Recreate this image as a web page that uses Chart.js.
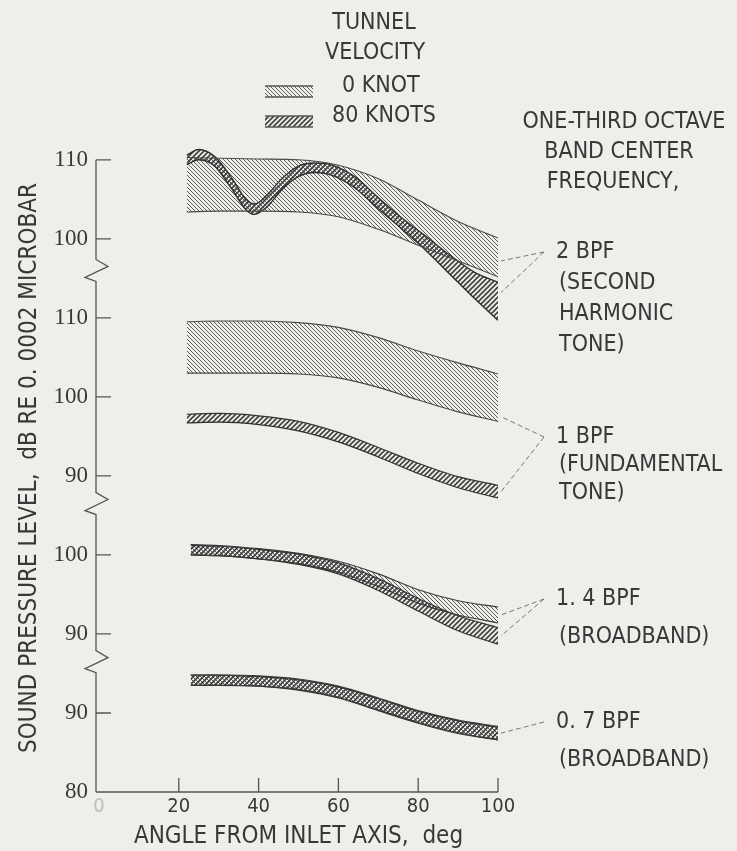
<!DOCTYPE html>
<html>
<head>
<meta charset="utf-8">
<script src="https://cdn.jsdelivr.net/npm/chart.js@4.4.1/dist/chart.umd.min.js"></script>
<style>
  html, body { margin: 0; padding: 0; background: #eeeeeb; }
  #wrap { width: 737px; height: 851px; }
</style>
</head>
<body>
<div id="wrap"><canvas id="chart" width="737" height="851"></canvas></div>
<script>
// --- angles from inlet axis, deg ---
const anglesTone = [22, 30, 40, 50, 60, 70, 80, 90, 100];
const anglesBroad = [23, 30, 40, 50, 60, 70, 80, 90, 100];
const anglesWiggle = [22, 25, 29, 33, 37, 39, 42, 46, 50, 54, 58, 64, 70, 76, 82, 88, 94, 100];

// --- 2 BPF (second harmonic tone), dB ---
const bpf2Knot0Upper = [110.3, 110.2, 110.1, 110.0, 109.3, 107.6, 104.9, 102.2, 100.1];
const bpf2Knot0Lower = [103.4, 103.5, 103.5, 103.4, 102.8, 101.2, 99.2, 97.2, 95.2];
const bpf2Knot80Upper = [110.6, 111.3, 110.4, 107.9, 104.9, 104.4, 105.5, 107.7, 109.2, 109.6, 109.4, 107.9, 105.2, 102.6, 100.3, 97.9, 95.8, 94.5];
const bpf2Knot80Lower = [109.4, 110.0, 109.2, 106.5, 103.6, 103.1, 104.0, 106.3, 107.9, 108.4, 108.1, 106.5, 103.8, 101.2, 98.5, 95.5, 92.5, 89.7];

// --- 1 BPF (fundamental tone), dB ---
const bpf1Knot0Upper = [109.5, 109.6, 109.6, 109.4, 108.8, 107.5, 105.8, 104.3, 102.9];
const bpf1Knot0Lower = [103.0, 103.0, 103.0, 102.9, 102.4, 101.2, 99.6, 98.1, 96.9];
const bpf1Knot80Upper = [97.8, 97.9, 97.6, 96.9, 95.5, 93.6, 91.6, 89.9, 88.8];
const bpf1Knot80Lower = [96.7, 96.8, 96.5, 95.7, 94.3, 92.4, 90.3, 88.5, 87.2];

// --- 1.4 BPF (broadband), dB ---
const bpf14Knot0Upper = [101.3, 101.2, 100.8, 100.2, 99.2, 97.6, 95.6, 94.2, 93.4];
const bpf14Knot0Lower = [100.0, 99.9, 99.5, 98.9, 97.8, 96.0, 93.9, 92.4, 91.4];
const bpf14Knot80Upper = [101.2, 101.1, 100.7, 100.1, 99.0, 97.0, 94.5, 92.3, 90.8];
const bpf14Knot80Lower = [100.0, 99.9, 99.5, 98.8, 97.6, 95.5, 92.9, 90.4, 88.7];

// --- 0.7 BPF (broadband), dB ---
const bpf07Knot0Upper = [94.8, 94.8, 94.7, 94.3, 93.4, 91.9, 90.3, 89.1, 88.3];
const bpf07Knot0Lower = [93.5, 93.5, 93.4, 93.0, 92.0, 90.4, 88.8, 87.5, 86.6];
const bpf07Knot80Upper = [94.8, 94.8, 94.6, 94.2, 93.3, 91.8, 90.2, 89.0, 88.2];
const bpf07Knot80Lower = [93.5, 93.5, 93.4, 92.9, 91.9, 90.3, 88.7, 87.4, 86.6];

// broken y axis: each panel is shifted up on one continuous scale
const offset07 = 0, offset14 = 10, offset1 = 30, offset2 = 50;
const yTickValues = [80, 90, 100, 110, 120, 130, 140, 150, 160];
const yTickLabels = ['80', '90', '90', '100', '90', '100', '110', '100', '110'];
const yBreaks = [96.5, 116.5, 146];
const xTickValues = [0, 20, 40, 60, 80, 100];

const narrow = "'Liberation Sans Narrow', 'DejaVu Sans Condensed', sans-serif";
const ink = '#383838';

const canvas = document.getElementById('chart');
const ctx = canvas.getContext('2d');

function hatch(dir, gap, color, width) {
    const c = document.createElement('canvas');
    c.width = gap; c.height = gap;
    const g = c.getContext('2d');
    g.strokeStyle = color;
    g.lineWidth = width;
    g.beginPath();
    if (dir === 'back') { // "\\\\"
        g.moveTo(-1, -1); g.lineTo(gap + 1, gap + 1);
        g.moveTo(-1, gap - 1); g.lineTo(1, gap + 1);
        g.moveTo(gap - 1, -1); g.lineTo(gap + 1, 1);
    } else { // "////"
        g.moveTo(-1, gap + 1); g.lineTo(gap + 1, -1);
        g.moveTo(-1, 1); g.lineTo(1, -1);
        g.moveTo(gap - 1, gap + 1); g.lineTo(gap + 1, gap - 1);
    }
    g.stroke();
    return ctx.createPattern(c, 'repeat');
}

const hatch0 = hatch('back', 4, 'rgba(55,55,55,0.8)', 1);
const hatch80 = hatch('fwd', 5, 'rgba(35,35,35,0.85)', 1.6);

function band(angles, upper, lower, off, pattern, edge, w) {
    return [
        {
            data: angles.map((a, i) => ({ x: a, y: upper[i] + off })),
            fill: '+1', backgroundColor: pattern, borderColor: edge, borderWidth: w
        },
        {
            data: angles.map((a, i) => ({ x: a, y: lower[i] + off })),
            fill: false, borderColor: edge, borderWidth: w
        }
    ];
}

const datasets = [
    ...band(anglesTone, bpf2Knot0Upper, bpf2Knot0Lower, offset2, hatch0, '#4a4a4a', 1.1),
    ...band(anglesWiggle, bpf2Knot80Upper, bpf2Knot80Lower, offset2, hatch80, '#303030', 1.4),
    ...band(anglesTone, bpf1Knot0Upper, bpf1Knot0Lower, offset1, hatch0, '#4a4a4a', 1.1),
    ...band(anglesTone, bpf1Knot80Upper, bpf1Knot80Lower, offset1, hatch80, '#333', 1.2),
    ...band(anglesBroad, bpf14Knot0Upper, bpf14Knot0Lower, offset14, hatch0, '#3a3a3a', 1.1),
    ...band(anglesBroad, bpf14Knot80Upper, bpf14Knot80Lower, offset14, hatch80, '#333', 1.2),
    ...band(anglesBroad, bpf07Knot0Upper, bpf07Knot0Lower, offset07, hatch0, '#3a3a3a', 1.1),
    ...band(anglesBroad, bpf07Knot80Upper, bpf07Knot80Lower, offset07, hatch80, '#333', 1.2)
];

// right-hand labels: text lines, left x, first line y, line step, leader target values at 100 deg
const sideNotes = [
    { lines: ['2 BPF', '(SECOND', 'HARMONIC', 'TONE)'], x: 556, y: 252, step: 31,
      ends: [bpf2Knot0Lower[8] + 2 + offset2, bpf2Knot80Upper[17] - 1.3 + offset2] },
    { lines: ['1 BPF', '(FUNDAMENTAL', 'TONE)'], x: 556, y: 437, step: 28,
      ends: [bpf1Knot0Lower[8] + 0.6 + offset1, (bpf1Knot80Upper[8] + bpf1Knot80Lower[8]) / 2 + offset1] },
    { lines: ['1. 4 BPF', '(BROADBAND)'], x: 556, y: 599, step: 38,
      ends: [(bpf14Knot0Upper[8] + bpf14Knot0Lower[8]) / 2 + offset14, (bpf14Knot80Upper[8] + bpf14Knot80Lower[8]) / 2 + offset14] },
    { lines: ['0. 7 BPF', '(BROADBAND)'], x: 556, y: 722, step: 38,
      ends: [(bpf07Knot0Upper[8] + bpf07Knot0Lower[8]) / 2 + offset07] }
];

const overlay = {
    id: 'overlay',
    afterDraw(chart) {
        const { ctx, scales: { x, y } } = chart;
        const ax = x.getPixelForValue(0) - 3;
        const top = y.getPixelForValue(160);
        const bottom = y.getPixelForValue(80);
        ctx.save();
        ctx.strokeStyle = '#555';
        ctx.lineWidth = 1.3;

        // y axis with break marks
        ctx.beginPath();
        ctx.moveTo(ax, top);
        yBreaks.slice().sort((a, b) => b - a).forEach(b => {
            const py = y.getPixelForValue(b);
            ctx.lineTo(ax, py - 11);
            ctx.lineTo(ax + 12, py - 4);
            ctx.lineTo(ax - 11, py + 7);
            ctx.lineTo(ax, py + 11);
        });
        ctx.lineTo(ax, bottom);
        ctx.stroke();

        // inward ticks
        ctx.beginPath();
        yTickValues.forEach(v => {
            const py = y.getPixelForValue(v);
            ctx.moveTo(ax, py); ctx.lineTo(ax + 15, py);
        });
        ctx.moveTo(ax, bottom); ctx.lineTo(x.getPixelForValue(100), bottom);
        xTickValues.slice(1).forEach(v => {
            const px = x.getPixelForValue(v);
            ctx.moveTo(px, bottom); ctx.lineTo(px, bottom - 14);
        });
        ctx.stroke();

        // legend
        ctx.fillStyle = ink;
        ctx.textBaseline = 'middle';
        ctx.font = `23px ${narrow}`;
        ctx.textAlign = 'center';
        ctx.fillText('TUNNEL', 374, 23);
        ctx.fillText('VELOCITY', 375, 53);
        ctx.textAlign = 'left';
        ctx.fillText('0 KNOT', 342, 86);
        ctx.fillText('80 KNOTS', 332, 116);
        [[hatch0, 91], [hatch80, 121]].forEach(([p, sy]) => {
            ctx.fillStyle = p;
            ctx.fillRect(265, sy - 5, 48, 11);
            ctx.beginPath();
            ctx.moveTo(265, sy - 5); ctx.lineTo(313, sy - 5);
            ctx.moveTo(265, sy + 6); ctx.lineTo(313, sy + 6);
            ctx.stroke();
        });

        // frequency notes
        ctx.fillStyle = ink;
        ctx.textAlign = 'center';
        ctx.fillText('ONE-THIRD OCTAVE', 624, 122);
        ctx.fillText('BAND CENTER', 619, 152);
        ctx.fillText('FREQUENCY,', 613, 182);
        ctx.textAlign = 'left';
        const endX = x.getPixelForValue(100) + 3;
        sideNotes.forEach(n => {
            n.lines.forEach((t, i) => ctx.fillText(t, n.x + (i ? 3 : 0), n.y + i * n.step));
            ctx.save();
            ctx.setLineDash([5, 3]);
            ctx.lineWidth = 1;
            ctx.strokeStyle = '#777';
            ctx.beginPath();
            n.ends.forEach(v => {
                ctx.moveTo(n.x - 12, n.y);
                ctx.lineTo(endX, y.getPixelForValue(v));
            });
            ctx.stroke();
            ctx.restore();
        });
        ctx.restore();
    }
};

new Chart(ctx, {
    type: 'line',
    data: { datasets },
    plugins: [overlay],
    options: {
        responsive: false,
        animation: false,
        devicePixelRatio: 1,
        layout: { padding: { top: 144, right: 239, left: 0, bottom: 0 } },
        plugins: { legend: { display: false }, tooltip: { enabled: false } },
        elements: {
            point: { radius: 0 },
            line: { cubicInterpolationMode: 'monotone' }
        },
        scales: {
            x: {
                type: 'linear', min: 0, max: 100,
                afterBuildTicks: s => { s.ticks = xTickValues.map(v => ({ value: v })); },
                afterFit: s => { s.height = 59; },
                grid: { display: false, drawTicks: false },
                border: { display: false },
                ticks: {
                    padding: 3,
                    font: { family: narrow, size: 20 },
                    color: c => (c.tick && c.tick.value === 0 ? '#bdbdbd' : ink)
                },
                title: {
                    display: true, text: 'ANGLE FROM INLET AXIS,  deg',
                    font: { family: narrow, size: 24 }, color: ink,
                    padding: { top: 0, bottom: 0 }
                }
            },
            y: {
                type: 'linear', min: 80, max: 162,
                afterBuildTicks: s => { s.ticks = yTickValues.map(v => ({ value: v })); },
                afterFit: s => { s.width = 99; },
                grid: { display: false, drawTicks: false },
                border: { display: false },
                ticks: {
                    padding: 11,
                    font: { family: "'Liberation Serif', 'DejaVu Serif', serif", size: 23 },
                    color: ink,
                    callback: v => yTickLabels[yTickValues.indexOf(v)]
                },
                title: {
                    display: true, text: 'SOUND PRESSURE LEVEL,  dB RE 0. 0002 MICROBAR',
                    font: { family: narrow, size: 24 }, color: ink,
                    padding: { top: 15, bottom: 0 }
                }
            }
        }
    }
});
</script>
</body>
</html>
